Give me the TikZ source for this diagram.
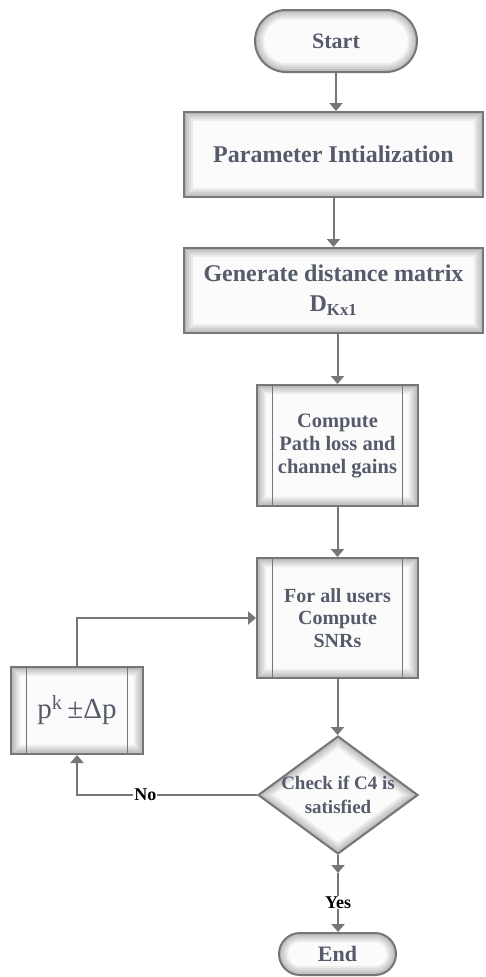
\documentclass[tikz,border=0pt]{standalone}
\usepackage{fontspec}
\setmainfont{Liberation Serif}
\usetikzlibrary{shapes.geometric, arrows.meta}
\definecolor{txt}{HTML}{555B6A}
\definecolor{edge}{HTML}{767676}
\definecolor{paper}{HTML}{FBFBFB}

\tikzset{
  % soft grey rim inside a rectangular box
  glowrect/.style={path picture={
    \foreach \w in {3,6,10,14,18}{
      \draw[black,opacity=0.06,line width=\w pt]
        (path picture bounding box.south west) rectangle (path picture bounding box.north east);}}},
  glowround/.style={path picture={
    \foreach \w in {3,6,10,14,18}{
      \draw[black,opacity=0.06,line width=\w pt,rounded corners=#1]
        (path picture bounding box.south west) rectangle (path picture bounding box.north east);}}},
  glowdiamond/.style={path picture={
    \foreach \w in {3,6,10,14,18}{
      \draw[black,opacity=0.06,line width=\w pt]
        (path picture bounding box.north) -- (path picture bounding box.east) --
        (path picture bounding box.south) -- (path picture bounding box.west) -- cycle;}}},
  % side bars of a predefined-process box
  sidebars/.style={path picture={
    \foreach \w in {3,6,10,14,18}{
      \draw[black,opacity=0.06,line width=\w pt]
        (path picture bounding box.south west) rectangle (path picture bounding box.north east);}
    \draw[edge,line width=1.6pt]
      ([xshift=15.5pt]path picture bounding box.north west) -- ([xshift=15.5pt]path picture bounding box.south west)
      ([xshift=-15.5pt]path picture bounding box.north east) -- ([xshift=-15.5pt]path picture bounding box.south east);}},
  base/.style={draw=edge, line width=2pt, fill=paper, text=txt, align=center, inner sep=0pt},
  term/.style={base, rectangle, rounded corners=#1, glowround=#1},
  proc/.style={base, rectangle, glowrect},
  sub/.style={base, rectangle, sidebars},
  decision/.style={base, diamond, glowdiamond},
  conn/.style={draw=edge, line width=2pt, -{Triangle[width=13pt,length=8pt]}},
  lbl/.style={fill=white, text=black, font=\fontsize{18}{20}\selectfont\bfseries, inner sep=1pt},
}

\begin{document}
\begin{tikzpicture}[x=1pt,y=-1pt]
\useasboundingbox[fill=white] (0,0) rectangle (485,977);

\node[term=31pt, minimum width=162pt, minimum height=62pt,
      font=\fontsize{22}{24}\selectfont\bfseries] (start) at (336,41) {Start};

\node[proc, minimum width=299pt, minimum height=85pt,
      font=\fontsize{24}{27}\selectfont\bfseries] (init) at (333.5,154.5) {Parameter Intialization};

\node[proc, minimum width=299pt, minimum height=85pt,
      font=\fontsize{24}{30}\selectfont\bfseries] (dist) at (333.5,290.5)
      {Generate distance matrix\\D\textsubscript{Kx1}};

\node[sub, minimum width=161pt, minimum height=121pt,
      font=\fontsize{20.5}{23}\selectfont\bfseries] (gain) at (337.5,445.5)
      {Compute\\Path loss and\\channel gains};

\node[sub, minimum width=161pt, minimum height=120pt,
      font=\fontsize{20}{22.5}\selectfont\bfseries] (snr) at (337.5,618)
      {For all users\\Compute\\SNRs};

\node[sub, minimum width=132pt, minimum height=87pt,
      font=\fontsize{29}{31}\selectfont] (step) at (77,710.5)
      {p\textsuperscript{k}\,±Δp};

\node[decision, minimum width=160pt, minimum height=118pt] (chk) at (338,795) {};
\node[text=txt, align=center, font=\fontsize{19}{24}\selectfont\bfseries] (chktext) at (chk)
      {Check if C4 is\\satisfied};

\coordinate (ymid) at (338,873);

\node[term=21pt, minimum width=117pt, minimum height=42pt,
      font=\fontsize{22}{24}\selectfont\bfseries] (stop) at (337.5,954) {End};

% main flow
\draw[conn] (start.south) -- (start.south |- init.north);
\draw[conn] (init.south) -- (init.south |- dist.north);
\draw[conn] (dist.south -| gain.north) -- (gain.north);
\draw[conn] (gain.south) -- (snr.north);
\draw[conn] (snr.south) -- (snr.south |- chk.north);
\draw[conn] (chk.south) -- (ymid);
\draw[conn] (ymid) -- node[lbl] (yes) {Yes} (ymid |- stop.north);

% power adjustment loop
\draw[conn] (chk.west) -| node[lbl, pos=0.31] (no) {No} (step.south);
\draw[conn] (step.north) |- (snr.west);
\end{tikzpicture}
\end{document}
